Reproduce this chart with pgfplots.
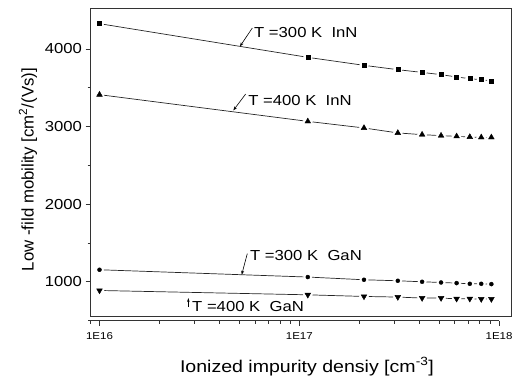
\documentclass[border=0pt]{standalone}
\usepackage{fontspec}
\setmainfont{Liberation Sans}[FakeStretch=1.15]
\newfontfamily\plainsans{Liberation Sans}
\usepackage{pgfplots}
\pgfplotsset{compat=1.18}
\usepackage{pgfplotstable}
\usetikzlibrary{arrows.meta}

\pgfplotstableread{
x y
1e16   4326
1.1e17 3892
2.1e17 3789
3.1e17 3733
4.1e17 3698
5.1e17 3669
6.1e17 3639
7.1e17 3617
8.1e17 3604
9.1e17 3588
}\InNthree
\pgfplotstableread{
x y
1e16   3411
1.1e17 3067
2.1e17 2982
3.1e17 2918
4.1e17 2896
5.1e17 2883
6.1e17 2874
7.1e17 2866
8.1e17 2861
9.1e17 2861
}\InNfour
\pgfplotstableread{
x y
1e16   1155
1.1e17 1061
2.1e17 1026
3.1e17 1013
4.1e17 1000
5.1e17 991
6.1e17 983
7.1e17 974
8.1e17 974
9.1e17 970
}\GaNthree
\pgfplotstableread{
x y
1e16   888
1.1e17 832
2.1e17 811
3.1e17 803
4.1e17 790
5.1e17 790
6.1e17 781
7.1e17 781
8.1e17 777
9.1e17 777
}\GaNfour

\newcommand{\annfont}{\fontsize{14.5}{17}\selectfont}

\begin{document}
\begin{tikzpicture}
\useasboundingbox (-90.5pt,-61pt) rectangle (425.5pt,316.7pt);
% offset x axis (Origin style)
\begin{axis}[
  at={(-2.5pt,-4pt)}, anchor=south west,
  width=411pt, height=307.7pt, scale only axis,
  xmode=log, xmin=8.76e15, xmax=1e18,
  ymin=0, ymax=1,
  hide y axis,
  axis x line*=bottom,
  x axis line style={-, black!80, line width=1pt},
  xtick={1e16,1e17,1e18}, xticklabels={1E16,1E17,1E18},
  minor xtick={9e15,2e16,3e16,4e16,5e16,6e16,7e16,8e16,9e16,2e17,3e17,4e17,5e17,6e17,7e17,8e17,9e17},
  tick align=outside,
  major tick length=5pt, minor tick length=3pt,
  every tick/.style={black!80, line width=0.8pt},
  xticklabel style={font=\fontsize{10}{12}\selectfont, yshift=-3pt},
]
\end{axis}
% main frame
\begin{axis}[
  at={(0pt,0pt)}, anchor=south west,
  width=421pt, height=307.7pt, scale only axis,
  xmode=log, xmin=9.02e15, xmax=1.148e18,
  ymin=550, ymax=4515,
  xtick=\empty,
  ytick={1000,2000,3000,4000}, yticklabels={1000,2000,3000,4000},
  minor ytick={1500,2500,3500},
  ytick pos=left,
  tick align=outside,
  major tick length=5pt, minor tick length=3pt,
  axis line style={black!80, line width=1pt},
  every tick/.style={black!80, line width=0.8pt},
  /pgf/number format/assume math mode=true,
  yticklabel style={font=\fontsize{14.5}{17}\selectfont},
  xlabel={Ionized impurity densiy [cm\textsuperscript{-3}]},
  ylabel={Low -fild mobility [cm\textsuperscript{2}/(Vs)]},
  xlabel style={font=\fontsize{17}{20}\selectfont, at={(axis description cs:0.514,-0.162)}, anchor=center},
  ylabel style={font=\plainsans\fontsize{16.8}{20}\selectfont, at={(axis description cs:-0.1485,0.478)}, anchor=center},
  clip=false,
]
% lines
\addplot[black!85, line width=0.7pt] table {\InNthree};
\addplot[black!85, line width=0.7pt] table {\InNfour};
\addplot[black!85, line width=0.7pt] table {\GaNthree};
\addplot[black!85, line width=0.7pt] table {\GaNfour};
% white halos (gaps around marks)
\addplot[only marks, mark=*, mark size=4.3pt, white, draw=white] table {\InNthree};
\addplot[only marks, mark=*, mark size=4.6pt, white, draw=white] table {\InNfour};
\addplot[only marks, mark=*, mark size=4.2pt, white, draw=white] table {\GaNthree};
\addplot[only marks, mark=*, mark size=4.6pt, white, draw=white] table {\GaNfour};
% marks
\addplot[only marks, mark=square*, mark size=2.0pt, black] table {\InNthree};
\addplot[only marks, mark=triangle*, mark size=3.3pt, black] table {\InNfour};
\addplot[only marks, mark=*, mark size=2.0pt, black] table {\GaNthree};
\addplot[only marks, mark=triangle*, mark size=3.3pt, black, mark options={rotate=180}] table {\GaNfour};
% annotations
\node[anchor=west, inner sep=0pt, font=\annfont] at (axis cs:5.92e16,4210) {T =300 K~~InN};
\draw[line width=0.6pt, -{Stealth[length=4pt,width=3pt]}] (axis cs:5.81e16,4271) -- (axis cs:5.04e16,4034);
\node[anchor=west, inner sep=0pt, font=\annfont] at (axis cs:5.53e16,3340) {T =400 K~~InN};
\draw[line width=0.6pt, -{Stealth[length=4pt,width=3pt]}] (axis cs:5.38e16,3420) -- (axis cs:4.67e16,3209);
\node[anchor=west, inner sep=0pt, font=\annfont] at (axis cs:5.65e16,1336) {T =300 K~~GaN};
\draw[line width=0.6pt, -{Stealth[length=4pt,width=3pt]}] (axis cs:5.48e16,1362) -- (axis cs:5.14e16,1092);
\node[anchor=west, inner sep=0pt, font=\annfont] at (axis cs:2.9e16,679) {T =400 K~~GaN};
\draw[line width=0.6pt, -{Stealth[length=4pt,width=2.5pt]}] (axis cs:2.78e16,675) -- (axis cs:2.78e16,791);
\end{axis}
\end{tikzpicture}
\end{document}
